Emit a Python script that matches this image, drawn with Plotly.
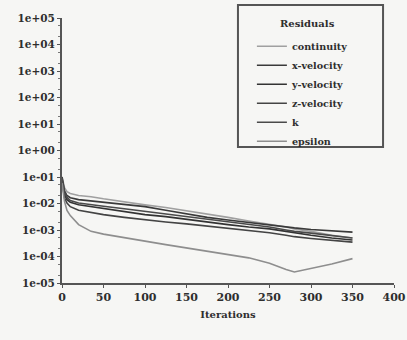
import plotly.graph_objects as go

iterations = [0, 3, 6, 10, 20, 35, 50, 75, 100, 125, 150, 175, 200, 225, 250, 270, 280, 300, 325, 350]

continuity = [0.1, 0.04, 0.028, 0.024, 0.02, 0.018, 0.015, 0.0112, 0.0089, 0.0071, 0.0054, 0.004, 0.003, 0.0022, 0.0017, 0.0013, 0.0011, 0.00089, 0.00063, 0.0005]
x_velocity = [0.1, 0.03, 0.02, 0.0166, 0.014, 0.0126, 0.0112, 0.0095, 0.0076, 0.0056, 0.004, 0.003, 0.0024, 0.0019, 0.0016, 0.0013, 0.0012, 0.00105, 0.00093, 0.00083]
y_velocity = [0.08, 0.022, 0.014, 0.0112, 0.0089, 0.0076, 0.0063, 0.0048, 0.0038, 0.0032, 0.0025, 0.002, 0.0016, 0.0013, 0.0011, 0.00089, 0.00079, 0.00063, 0.0005, 0.00042]
z_velocity = [0.07, 0.016, 0.0105, 0.0076, 0.0056, 0.0045, 0.0038, 0.003, 0.0024, 0.002, 0.0017, 0.0014, 0.0012, 0.001, 0.00079, 0.00063, 0.00056, 0.00048, 0.0004, 0.00035]
k_res = [0.09, 0.026, 0.017, 0.013, 0.0105, 0.0089, 0.0079, 0.0063, 0.005, 0.004, 0.0032, 0.0025, 0.002, 0.0016, 0.0013, 0.001, 0.00089, 0.00076, 0.0006, 0.0005]
epsilon = [0.06, 0.012, 0.0055, 0.0035, 0.0016, 0.00089, 0.0007, 0.0005, 0.00038, 0.00028, 0.00021, 0.00016, 0.00012, 0.000089, 0.000056, 0.000032, 0.000026, 0.000035, 0.000052, 0.000083]

series_names = ["continuity", "x-velocity", "y-velocity", "z-velocity", "k", "epsilon"]
series_values = [continuity, x_velocity, y_velocity, z_velocity, k_res, epsilon]
series_colors = ["#a0a0a0", "#3a3a3a", "#333333", "#444444", "#4a4a4a", "#8e8e8e"]

y_tick_vals = [1e5, 1e4, 1e3, 1e2, 1e1, 1e0, 1e-1, 1e-2, 1e-3, 1e-4, 1e-5]
y_tick_text = ["1e+05", "1e+04", "1e+03", "1e+02", "1e+01", "1e+00", "1e-01", "1e-02", "1e-03", "1e-04", "1e-05"]
x_tick_vals = [0, 50, 100, 150, 200, 250, 300, 350, 400]

font_family = "DejaVu Serif"
ink = "#2e2e2e"
bg = "#f6f6f4"

fig = go.Figure()
for name, vals, col in zip(series_names, series_values, series_colors):
    fig.add_trace(go.Scatter(x=iterations, y=vals, mode="lines", name=name,
                             line=dict(color=col, width=1.6)))

# legend frame
fig.add_shape(type="rect", xref="paper", yref="paper",
              x0=0.530, x1=0.967, y0=0.513, y1=1.049,
              line=dict(color="#555555", width=2), fillcolor="rgba(0,0,0,0)")
# legend title
fig.add_annotation(text="Residuals", xref="paper", yref="paper", x=0.738, y=0.979,
                   xanchor="center", yanchor="middle", showarrow=False,
                   font=dict(family=font_family, size=10, color=ink, weight="bold"))

fig.update_layout(
    width=407, height=340,
    margin=dict(l=62, r=13, t=18, b=57, autoexpand=False),
    paper_bgcolor=bg, plot_bgcolor=bg,
    font=dict(family=font_family, color=ink, size=11),
    showlegend=True,
    legend=dict(
        x=0.572, y=0.948, xanchor="left", yanchor="top",
        bgcolor="rgba(0,0,0,0)", borderwidth=0,
        font=dict(family=font_family, size=9.6, color=ink, weight="bold"),
        itemwidth=30, tracegroupgap=0,
    ),
    xaxis=dict(
        range=[0, 400], tickvals=x_tick_vals, ticks="outside", ticklen=3,
        tickcolor="#555555", showgrid=False, zeroline=False,
        showline=True, linecolor="#555555", linewidth=2,
        tickfont=dict(family=font_family, size=11, color=ink, weight="bold"),
        title=dict(text="Iterations", standoff=8,
                   font=dict(family=font_family, size=10, color=ink, weight="bold")),
    ),
    yaxis=dict(
        type="log", range=[-5, 5], tickvals=y_tick_vals, ticktext=y_tick_text,
        ticks="outside", ticklen=3, tickcolor="#555555",
        showgrid=False, zeroline=False,
        showline=True, linecolor="#555555", linewidth=2,
        tickfont=dict(family=font_family, size=10.5, color=ink, weight="bold"),
        minor=dict(ticks="outside", ticklen=2, tickcolor="#777777"),
    ),
)

fig.write_html("out.html", config={"displayModeBar": False},
               post_script="document.body.style.margin='0px';document.body.style.background='%s';" % bg)
